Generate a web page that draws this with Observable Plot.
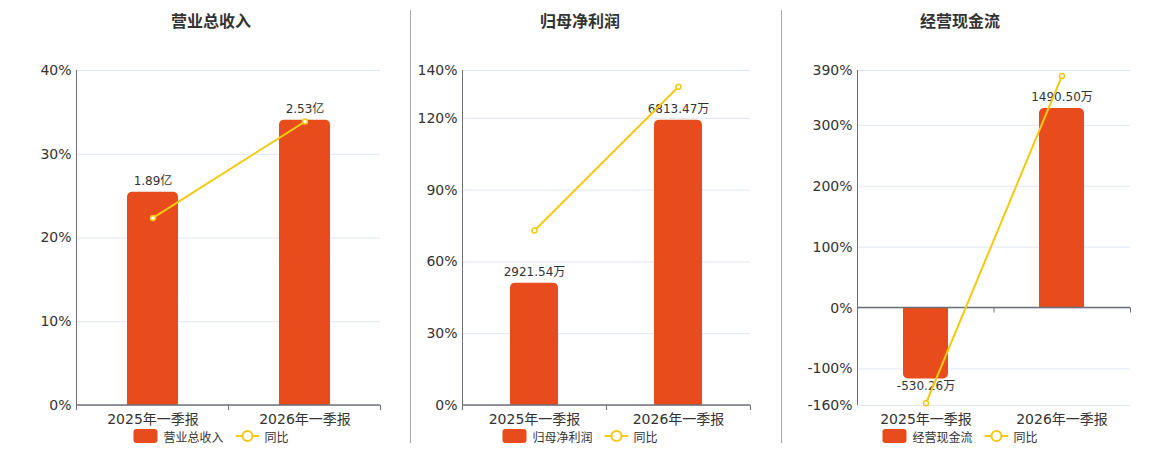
<!DOCTYPE html>
<html>
<head>
<meta charset="utf-8">
<script src="https://cdn.jsdelivr.net/npm/d3@7"></script>
<script src="https://cdn.jsdelivr.net/npm/@observablehq/plot@0.6"></script>
<style>
  html, body { margin: 0; padding: 0; background: #fff; }
  #root { position: relative; width: 1160px; height: 450px; overflow: hidden; font-family: "DejaVu Sans", "Noto Sans CJK SC", sans-serif; color: #333; }
  .title { position: absolute; top: 12px; font-size: 16px; font-weight: bold; color: #333; transform: translateX(-50%); white-space: nowrap; line-height: 20px; }
  .divider { position: absolute; top: 10px; width: 1px; height: 433px; background: #aaa; }
  .panel { position: absolute; top: 50px; }
  .legend { position: absolute; top: 429px; transform: translateX(-50%); display: flex; align-items: center; font-size: 12px; color: #333; white-space: nowrap; height: 14px; }
  .sw { display: inline-block; width: 24px; height: 14px; border-radius: 3px; margin-right: 6px; }
  .lg-line { margin-left: 12px; margin-right: 5px; display: inline-block; }
</style>
</head>
<body>
<div id="root"></div>
<script>
// ---- data ----
const categories = ["2025年一季报", "2026年一季报"];
const titles = ["营业总收入", "归母净利润", "经营现金流"];
const legendNames = ["营业总收入", "归母净利润", "经营现金流"];
const yoyName = "同比";

const revenueValues = [1.89, 2.53];          // 亿
const revenueYoY = [22.4, 33.9];             // %
const profitValues = [2921.54, 6813.47];     // 万
const profitYoY = [73.1, 133.2];             // %
const cashValues = [-530.26, 1490.50];       // 万
const cashYoY = [-156.3, 381.1];             // %

const units = ["亿", "万", "万"];
const yTicks1 = [0, 10, 20, 30, 40];
const yTicks2 = [0, 30, 60, 90, 120, 140];
const yTicks3 = [-160, -100, 0, 100, 200, 300, 390];
const barAxisMax = [2.97, 8000, 1775];       // hidden right-axis maximum for the bars

const BAR = "#E84B1C", LINE = "#F3C911", GRID = "#E0E6F1", AXIS = "#6E7079";

const panels = [
  {left: 0, width: 410, ml: 76, mr: 30, center: 211, values: revenueValues, yoy: revenueYoY, ticks: yTicks1, unit: units[0], barMax: barAxisMax[0], title: titles[0], legend: legendNames[0]},
  {left: 410, width: 371, ml: 52, mr: 31, center: 580, values: profitValues, yoy: profitYoY, ticks: yTicks2, unit: units[1], barMax: barAxisMax[1], title: titles[1], legend: legendNames[1]},
  {left: 781, width: 379, ml: 76, mr: 30, center: 960, values: cashValues, yoy: cashYoY, ticks: yTicks3, unit: units[2], barMax: barAxisMax[2], title: titles[2], legend: legendNames[2]}
];

const root = document.getElementById("root");

panels.forEach((p, i) => {
  const yMin = d3.min(p.ticks), yMax = d3.max(p.ticks);
  const k = yMax / p.barMax;
  const data = categories.map((c, j) => ({
    cat: c,
    value: p.values[j],
    pct: p.values[j] * k,
    yoy: p.yoy[j],
    label: p.values[j].toFixed(2) + p.unit
  }));

  const axes = (index, scales, values, dims) => {
    const g = d3.create("svg:g");
    const x0 = dims.marginLeft, x1 = dims.width - dims.marginRight;
    const yTop = dims.marginTop, yBot = dims.height - dims.marginBottom;
    const y0 = scales.y(0);
    g.append("line").attr("x1", x0 + 0.5).attr("x2", x0 + 0.5).attr("y1", yTop).attr("y2", yBot)
      .attr("stroke", AXIS).attr("stroke-width", 1);
    g.append("line").attr("x1", x0).attr("x2", x1).attr("y1", y0).attr("y2", y0)
      .attr("stroke", AXIS).attr("stroke-width", 1.5);
    [x0, (x0 + x1) / 2, x1].forEach(x => {
      g.append("line").attr("x1", x + 0.5).attr("x2", x + 0.5).attr("y1", y0).attr("y2", y0 + 5)
        .attr("stroke", AXIS).attr("stroke-width", 1);
    });
    return g.node();
  };

  const chart = Plot.plot({
    width: p.width,
    height: 380,
    marginLeft: p.ml,
    marginRight: p.mr,
    marginTop: 20,
    marginBottom: 25,
    style: {fontFamily: '"DejaVu Sans", "Noto Sans CJK SC", sans-serif', fontSize: "14px", color: "#333", background: "transparent", overflow: "visible"},
    x: {domain: categories, paddingInner: 2/3, paddingOuter: 1/3, tickSize: 0, tickPadding: 9, label: null},
    y: {domain: [yMin, yMax], ticks: p.ticks, tickFormat: d => d + "%", tickSize: 0, tickPadding: 5, label: null},
    marks: [
      Plot.ruleY(p.ticks, {stroke: GRID, strokeWidth: 1}),
      Plot.barY(data, {x: "cat", y: "pct", fill: BAR, rx: 5, inset: 0}),
      Plot.barY(data, {x: "cat", y1: 0, y2: d => d.pct * 0.5, fill: BAR, inset: 0}),
      axes,
      Plot.text(data.filter(d => d.value >= 0), {x: "cat", y: "pct", text: "label", dy: -11, fontSize: 12, fill: "#333"}),
      Plot.text(data.filter(d => d.value < 0), {x: "cat", y: "pct", text: "label", dy: 7, fontSize: 12, fill: "#333"}),
      Plot.line(data, {x: "cat", y: "yoy", stroke: LINE, strokeWidth: 2}),
      Plot.dot(data, {x: "cat", y: "yoy", r: 2.5, stroke: LINE, strokeWidth: 1.5, fill: "#fff"})
    ]
  });
  const wrap = document.createElement("div");
  wrap.className = "panel";
  wrap.style.left = p.left + "px";
  wrap.appendChild(chart);
  root.appendChild(wrap);

  const t = document.createElement("div");
  t.className = "title";
  t.style.left = p.center + "px";
  t.textContent = p.title;
  root.appendChild(t);

  const lg = document.createElement("div");
  lg.className = "legend";
  lg.style.left = p.center + "px";
  lg.innerHTML = `<span class="sw" style="background:${BAR}"></span><span>${p.legend}</span>` +
    `<svg class="lg-line" width="24" height="14"><line x1="0" x2="24" y1="7" y2="7" stroke="${LINE}" stroke-width="2"/><circle cx="12" cy="7" r="5" fill="#fff" stroke="${LINE}" stroke-width="2"/></svg><span>${yoyName}</span>`;
  root.appendChild(lg);
});

[410, 781].forEach(x => {
  const d = document.createElement("div");
  d.className = "divider";
  d.style.left = x + "px";
  root.appendChild(d);
});
</script>
</body>
</html>
